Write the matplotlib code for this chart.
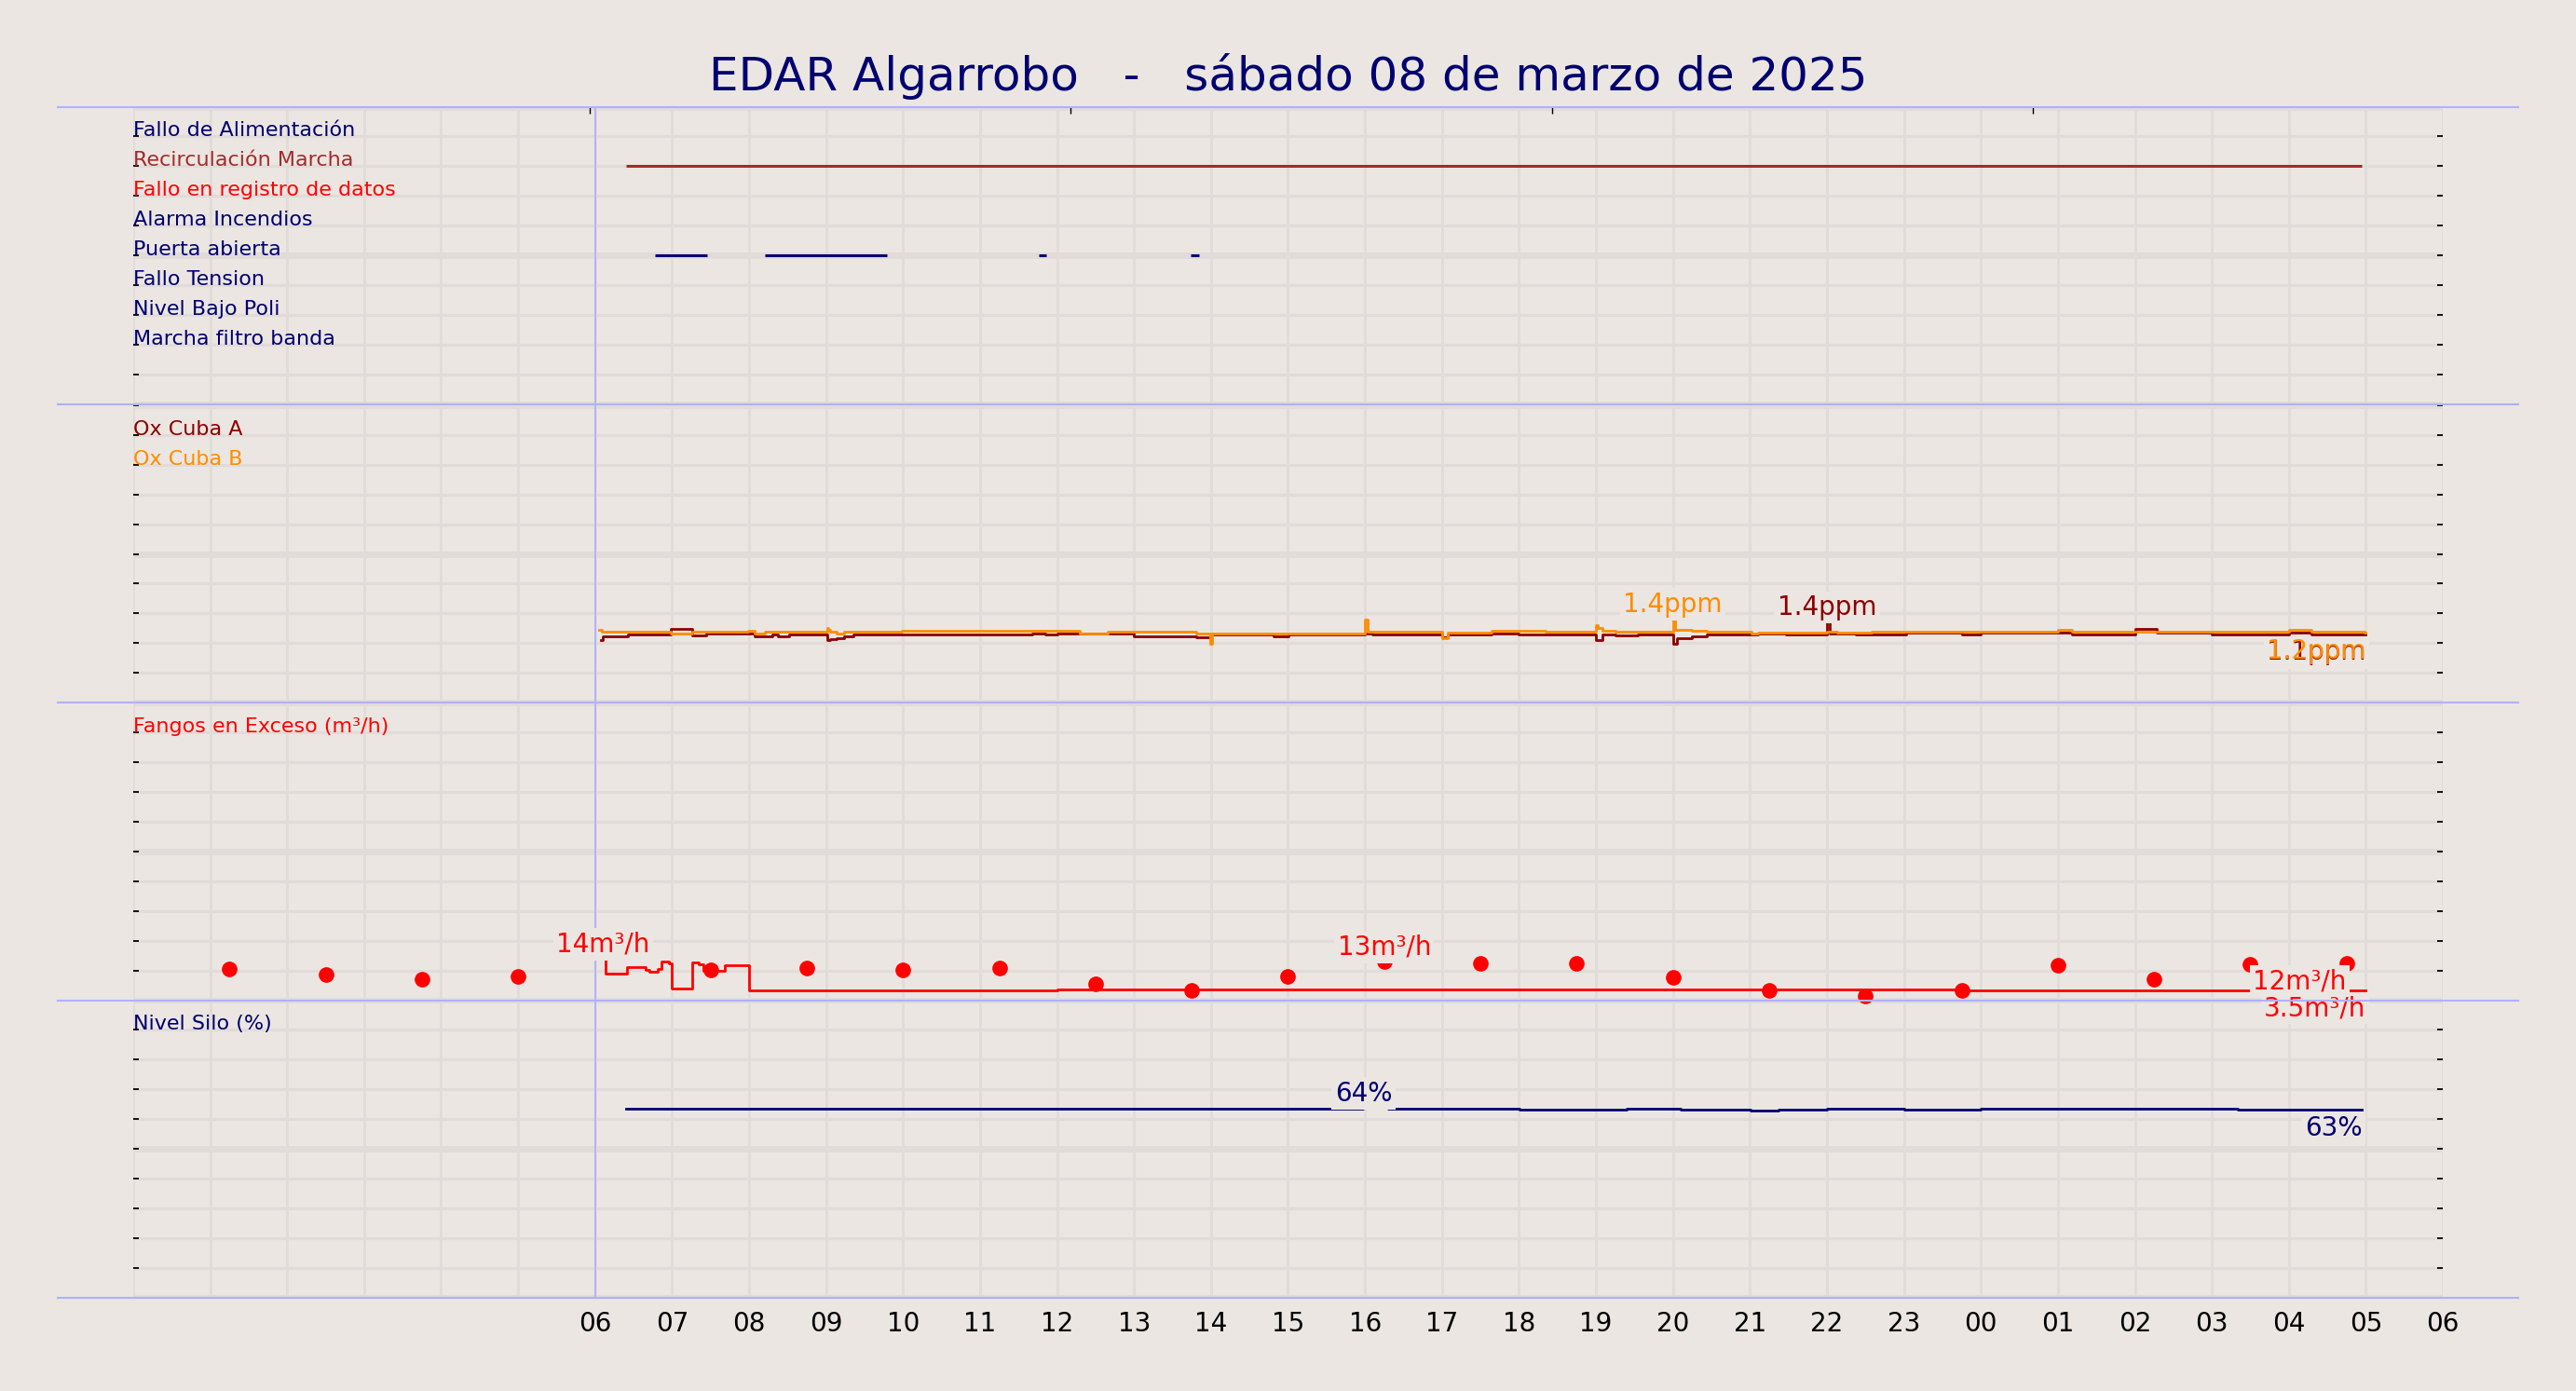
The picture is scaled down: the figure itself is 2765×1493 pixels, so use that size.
import numpy as np
import matplotlib.pyplot as plt
from matplotlib.lines import Line2D
from matplotlib.ticker import MultipleLocator

BG = '#ebe6e1'
GRID = '#e1dbd9'
BLUE = '#b0b0ff'
NAVY = '#000070'

title = 'EDAR Algarrobo   -   sábado 08 de marzo de 2025'

# x axis: hours from 00:00 of the day to 06:00 of the next one
hours = list(range(0, 31))
hour_labels = ['', '', '', '', '', '', '06', '07', '08', '09', '10', '11', '12',
               '13', '14', '15', '16', '17', '18', '19', '20', '21', '22', '23',
               '00', '01', '02', '03', '04', '05', '06']
top_ticks = [5.93, 12.18, 18.43, 24.68]

# panel 1 - digital signals
event_names = ['Fallo de Alimentación', 'Recirculación Marcha', 'Fallo en registro de datos',
               'Alarma Incendios', 'Puerta abierta', 'Fallo Tension', 'Nivel Bajo Poli',
               'Marcha filtro banda']
event_colors = [NAVY, '#a52a2a', 'red', NAVY, NAVY, NAVY, NAVY, NAVY]
event_rows = [9, 8, 7, 6, 5, 4, 3, 2]
recirc_start = [6.40]
recirc_end = [28.95]
puerta_start = [6.78, 8.21, 11.76, 13.74]
puerta_end = [7.45, 9.79, 11.86, 13.85]

# panel 2 - oxygen (ppm)
oxa_t = [6.07, 6.10, 6.43, 6.98, 7.26, 7.44, 8.07, 8.30, 8.37, 8.52, 9.01, 9.05, 9.14,
         9.23, 9.35, 9.81, 9.99, 11.68, 11.85, 12.01, 12.30, 12.66, 13.00, 13.81, 14.00,
         14.81, 15.01, 15.62, 16.00, 16.10, 17.00, 17.07, 17.65, 17.99, 18.35, 18.58,
         19.00, 19.08, 19.25, 19.54, 20.00, 20.05, 20.24, 20.44, 21.10, 21.47, 22.00,
         22.04, 22.13, 22.37, 22.58, 22.95, 23.03, 23.75, 24.00, 25.18, 26.00, 26.29,
         27.00, 28.00, 28.29, 28.97, 29.00]
oxa_v = [1.05, 1.12, 1.14, 1.235, 1.13, 1.16, 1.12, 1.14, 1.12, 1.14, 1.05, 1.07, 1.09,
         1.11, 1.14, 1.15, 1.14, 1.16, 1.14, 1.16, 1.17, 1.16, 1.12, 1.10, 1.14,
         1.12, 1.15, 1.14, 1.16, 1.14, 1.10, 1.14, 1.16, 1.14, 1.15, 1.14,
         1.05, 1.14, 1.13, 1.15, 0.99, 1.09, 1.12, 1.14, 1.16, 1.15, 1.36,
         1.17, 1.16, 1.14, 1.15, 1.14, 1.18, 1.15, 1.18, 1.14, 1.235, 1.18,
         1.14, 1.18, 1.14, 1.148, 1.148]
oxb_t = [6.05, 6.09, 6.98, 7.26, 7.99, 8.07, 8.21, 8.30, 8.37, 8.45, 9.01, 9.03, 9.05,
         9.14, 9.23, 9.99, 12.30, 12.66, 13.81, 13.99, 14.01, 16.00, 16.03, 16.10, 17.00,
         17.07, 17.65, 18.35, 19.00, 19.02, 19.08, 19.25, 20.00, 20.03, 20.24, 20.44,
         21.02, 21.10, 22.00, 22.13, 22.58, 22.95, 23.03, 25.00, 25.18, 28.00, 28.29,
         28.98, 29.00]
oxb_v = [1.22, 1.19, 1.17, 1.19, 1.21, 1.17, 1.20, 1.19, 1.20, 1.19, 1.26, 1.22, 1.19,
         1.16, 1.19, 1.21, 1.17, 1.19, 1.17, 0.99, 1.17, 1.39, 1.19, 1.19, 1.08,
         1.18, 1.21, 1.19, 1.31, 1.25, 1.21, 1.19, 1.41, 1.22, 1.21, 1.20,
         1.17, 1.18, 1.19, 1.18, 1.20, 1.19, 1.19, 1.22, 1.19, 1.22, 1.20,
         1.176, 1.176]

# panel 3 - excess sludge (m3/h)
fango_t = [6.10, 6.14, 6.41, 6.66, 6.71, 6.81, 6.86, 6.96, 7.00, 7.26, 7.34, 7.41, 7.68,
           8.00, 12.01, 23.74, 29.00]
fango_v = [14.0, 9.1, 11.2, 10.3, 9.6, 10.6, 13.0, 12.6, 4.1, 12.7, 12.2, 9.8, 11.7,
           3.3, 3.8, 3.5, 3.5]
fango_dot_t = [1.25, 2.5, 3.75, 5.0, 6.25, 7.5, 8.75, 10.0, 11.25, 12.5, 13.75, 15.0,
               16.25, 17.5, 18.75, 20.0, 21.25, 22.5, 23.75, 25.0, 26.25, 27.5, 28.75]
fango_dot_v = [10.5, 8.8, 7.2, 8.0, np.nan, 10.1, 10.8, 10.1, 10.8, 5.6, 3.3, 8.2,
               13.0, 12.3, 12.4, 7.7, 3.3, 1.5, 3.5, 11.9, 7.1, 12.2, 12.4]

# panel 4 - silo level (%)
silo_t = [6.40, 15.98, 16.30, 18.01, 19.40, 19.99, 20.10, 21.01, 21.37, 22.00, 23.00,
          24.00, 27.34, 28.95]
silo_v = [63.5, 63.8, 63.6, 63.2, 63.6, 63.4, 63.2, 62.9, 63.2, 63.6, 63.2, 63.6, 63.2, 63.2]


def setup_panel(ax, ymax, step):
    ax.set_facecolor(BG)
    ax.set_xlim(0, 30)
    ax.set_ylim(0, ymax)
    ax.set_xticks(hours)
    ax.yaxis.set_major_locator(MultipleLocator(step * 5))
    ax.yaxis.set_minor_locator(MultipleLocator(step))
    ax.set_axisbelow(True)
    ax.grid(axis='x', color=GRID, lw=2)
    ax.grid(axis='y', which='major', color=GRID, lw=5)
    ax.grid(axis='y', which='minor', color=GRID, lw=2.2)
    for s in ax.spines.values():
        s.set_visible(False)
    ax.tick_params(axis='y', which='both', direction='in', length=4, width=1.3,
                   left=True, right=True, labelleft=False)
    ax.tick_params(axis='x', length=0, labelbottom=False)
    ax.axvline(6, color=BLUE, lw=1.3, zorder=1)


def side_label(ax, y, text, color):
    ax.text(0.0, y, text, transform=ax.get_yaxis_transform(), ha='left', va='baseline',
            fontsize=16, color=color)


def tag(ax, x, y, unit, color, where, boxed=True):
    s = '{:.2g}{}'.format(y, unit)
    box = dict(boxstyle='square,pad=0.12', fc=BG, ec='none') if boxed else None
    if where == 'max':
        ax.annotate(s, (x, y), xytext=(0, 1), textcoords='offset points', ha='center',
                    va='bottom', fontsize=20, color=color, bbox=box, zorder=6,
                    annotation_clip=False)
    else:
        ax.annotate(s, (x, y), xytext=(0, -4), textcoords='offset points', ha='right',
                    va='top', fontsize=20, color=color, bbox=box, zorder=6,
                    annotation_clip=False)


fig = plt.figure(figsize=(27.65, 14.93), dpi=100, facecolor=BG)
left, width, height = 0.0517, 0.8966, 0.2140
bottoms = [0.7093, 0.4948, 0.2808, 0.0670]
ax1, ax2, ax3, ax4 = [fig.add_axes([left, b, width, height]) for b in bottoms]
# upper panels on top so the value labels can spill into the panel below
for z, ax in zip([4, 3, 2, 1], [ax1, ax2, ax3, ax4]):
    ax.set_zorder(z)

# digital signals
setup_panel(ax1, 10, 1)
for name, c, r in zip(event_names, event_colors, event_rows):
    side_label(ax1, r, name, c)
ax1.hlines([8] * len(recirc_start), recirc_start, recirc_end, color='#a52a2a', lw=2.2, zorder=3)
ax1.hlines([5] * len(puerta_start), puerta_start, puerta_end, color=NAVY, lw=2.2, zorder=3)
top = ax1.twiny()
top.set_zorder(5)
top.set_xlim(0, 30)
top.set_xticks(top_ticks)
top.tick_params(axis='x', direction='in', length=5, width=1, labeltop=False)
for s in top.spines.values():
    s.set_visible(False)

# oxygen
setup_panel(ax2, 5, 0.5)
side_label(ax2, 4.5, 'Ox Cuba A', '#8b0000')
side_label(ax2, 4.0, 'Ox Cuba B', '#ff8c00')
for t, v, c in [(oxa_t, oxa_v, '#8b0000'), (oxb_t, oxb_v, '#ff8c00')]:
    ax2.plot(t, v, drawstyle='steps-post', color=c, lw=2, zorder=3)
for t, v, c in [(oxa_t, oxa_v, '#8b0000'), (oxb_t, oxb_v, '#ff8c00')]:
    i = int(np.argmax(v))
    tag(ax2, t[i], v[i], 'ppm', c, 'max')
tag(ax2, oxa_t[-1], oxa_v[-1], 'ppm', '#8b0000', 'last')
tag(ax2, oxb_t[-1], oxb_v[-1], 'ppm', '#ff8c00', 'last', boxed=False)

# excess sludge
setup_panel(ax3, 100, 10)
side_label(ax3, 90, 'Fangos en Exceso (m³/h)', 'red')
ax3.plot(fango_t, fango_v, drawstyle='steps-post', color='red', lw=2, zorder=3)
ax3.plot(fango_dot_t, fango_dot_v, 'o', color='red', ms=11, zorder=4, clip_on=False)
i = int(np.argmax(fango_v))
tag(ax3, fango_t[i], fango_v[i], 'm³/h', 'red', 'max')
i = int(np.nanargmax(fango_dot_v))
tag(ax3, fango_dot_t[i], fango_dot_v[i], 'm³/h', 'red', 'max')
tag(ax3, fango_dot_t[-1], fango_dot_v[-1], 'm³/h', 'red', 'last')
tag(ax3, fango_t[-1], fango_v[-1], 'm³/h', 'red', 'last')

# silo level
setup_panel(ax4, 100, 10)
side_label(ax4, 90, 'Nivel Silo (%)', NAVY)
ax4.plot(silo_t, silo_v, drawstyle='steps-post', color=NAVY, lw=2, zorder=3)
i = int(np.argmax(silo_v))
tag(ax4, silo_t[i], silo_v[i], '%', NAVY, 'max')
tag(ax4, silo_t[-1], silo_v[-1], '%', NAVY, 'last')
ax4.tick_params(axis='x', labelbottom=True, labelsize=20, pad=10)
ax4.set_xticklabels(hour_labels)

# panel separators across the figure
for y in [0.9233, 0.7093, 0.4948, 0.2808, 0.0670]:
    fig.add_artist(Line2D([0.0223, 0.9777], [y, y], color=BLUE, lw=1.5,
                          transform=fig.transFigure, zorder=10))

fig.text(0.5, 0.945, title, ha='center', va='center', fontsize=36, color=NAVY)

fig.savefig('out.png', dpi=100, facecolor=BG)
